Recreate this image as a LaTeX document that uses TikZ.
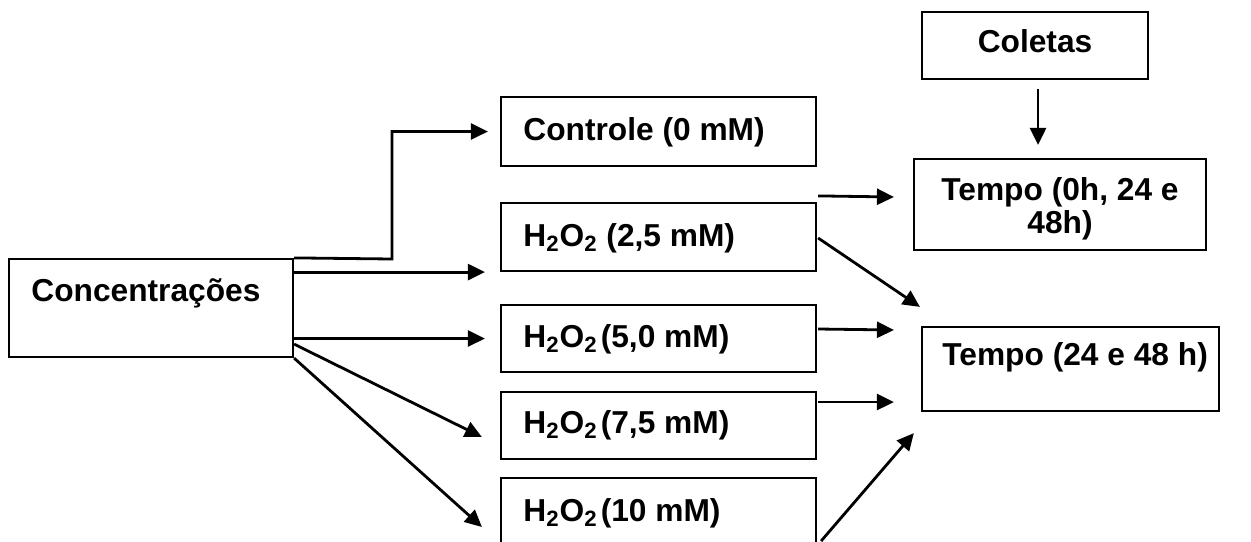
\documentclass[tikz,border=0pt]{standalone}
\usepackage{fontspec}
\setmainfont{Liberation Sans}
\usetikzlibrary{arrows.meta,calc}
\tikzset{
  box/.style={draw=black, line width=1.1pt, rectangle, inner sep=0pt},
  lbl/.style={inner sep=0pt, font=\fontsize{15.85}{16.5}\selectfont\bfseries},
  arr/.style={line width=1.4pt, -{Triangle[length=8.5pt,width=8pt]}},
}
\newcommand{\hh}{H\textsubscript{2}O\textsubscript{2}}
\begin{document}
\begin{tikzpicture}[x=0.5pt,y=-0.5pt]
\useasboundingbox (0,0) rectangle (1251,541);
\clip (0,0) rectangle (1251,541);
% boxes
\node[box, minimum width=142pt, minimum height=49pt] (conc) at (151,308) {};
\node[box, minimum width=157.5pt, minimum height=34.5pt] (ctrl) at (658.5,131.5) {};
\node[box, minimum width=157.5pt, minimum height=34pt] (h25) at (658.5,237) {};
\node[box, minimum width=157.5pt, minimum height=33.5pt] (h50) at (658.5,338.5) {};
\node[box, minimum width=157.5pt, minimum height=33.5pt] (h75) at (658.5,425.5) {};
\node[box, minimum width=157.5pt, minimum height=34pt] (h10) at (658.5,512) {};
\node[box, minimum width=113pt, minimum height=33.5pt] (coletas) at (1035,45.5) {};
\node[box, minimum width=146pt, minimum height=45.5pt] (t0) at (1060,204.5) {};
\node[box, minimum width=148.5pt, minimum height=42pt] (t24) at (1070.5,369) {};
% texts
\node[lbl, anchor=base west] (tconc) at (31,301) {Concentrações};
\node[lbl, anchor=base west] (tctrl) at (523,140) {Controle (0 mM)};
\node[lbl, anchor=base west] (th25) at (523,246) {\hh{} (2,5 mM)};
\node[lbl, anchor=base west] (th50) at (523,347) {\hh\hspace{0.1em}(5,0 mM)};
\node[lbl, anchor=base west] (th75) at (523,433) {\hh\hspace{0.1em}(7,5 mM)};
\node[lbl, anchor=base west] (th10) at (523,521) {\hh\hspace{0.1em}(10 mM)};
\node[lbl, anchor=base] (tcol) at (1035,52) {Coletas};
\node[lbl, anchor=base] (tt0a) at (1060,200) {Tempo (0h, 24 e};
\node[lbl, anchor=base] (tt0b) at (1060,233) {48h)};
\node[lbl, anchor=base west] (tt24) at (942,365) {Tempo (24 e 48 h)};
% connectors from Concentrações
\draw[arr, shorten >=6pt] (conc.north east) -- (392,259) |- (ctrl.west);
\draw[arr, shorten >=7.5pt] (conc.east |- h25.south west) -- (h25.south west);
\draw[arr, shorten >=7.5pt] (conc.east |- h50.west) -- (h50.west);
\draw[arr] ($(conc.south east)+(0,-14)$) -- ($(h75.west)+(-18,11.5)$);
\draw[arr] (conc.south east) -- ($(h10.west)+(-18,15)$);
% connectors to Tempo
\draw[arr] ($(h25.north east)+(1,-6)$) -- ($(t0.west)+(-19,-7.5)$);
\draw[arr] ($(h25.east)+(1,1)$) -- ($(t24.north west)+(-1,-19)$);
\draw[arr] ($(h50.east)+(1,-9.5)$) -- ($(t24.west)+(-27,-39)$);
\draw[arr] ($(h75.east)+(1,-23.5)$) -- ($(t24.west)+(-27,33)$);
\draw[arr] ($(h10.east)+(4,29)$) -- ($(t24.south west)+(-7,21)$);
\draw[arr] ($(coletas.south)+(3,9)$) -- ($(t0.north)+(-22,-13)$);
\end{tikzpicture}
\end{document}
